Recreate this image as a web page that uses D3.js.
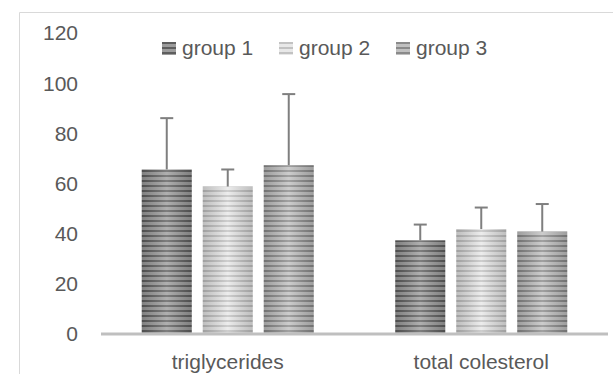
<!DOCTYPE html>
<html>
<head>
<meta charset="utf-8">
<script src="https://cdn.jsdelivr.net/npm/d3@7"></script>
<style>
  html, body { margin: 0; padding: 0; background: #fff; }
  #chart { width: 613px; height: 374px; }
  text { font-family: "Liberation Sans", Arial, sans-serif; fill: #595959; }
</style>
</head>
<body>
<div id="chart"></div>
<script>
// chart data
const categories = ['triglycerides', 'total colesterol'];
const groups = ['group 1', 'group 2', 'group 3'];
const means = [
    [65.7, 58.9, 67.4],   // triglycerides
    [37.4, 41.9, 40.9]    // total colesterol
];
const errors = [
    [20.5, 6.8, 28.4],
    [6.3, 8.6, 11.0]
];
const yTicks = [0, 20, 40, 60, 80, 100, 120];

// stripe colours per group: [dark band, light band]
const stripes = [
    ['#5e5e5e', '#9c9c9c'],
    ['#c2c2c2', '#e8e8e8'],
    ['#8a8a8a', '#c0c0c0']
];

const W = 613, H = 374;
const svg = d3.select('#chart')
    .append('svg')
    .attr('width', W)
    .attr('height', H);

const defs = svg.append('defs');

// horizontal stripe patterns
stripes.forEach((c, i) => {
    const p = defs.append('pattern')
        .attr('id', 'stripe' + i)
        .attr('patternUnits', 'userSpaceOnUse')
        .attr('width', 10)
        .attr('height', 5);
    p.append('rect').attr('width', 10).attr('height', 5).attr('fill', c[1]);
    p.append('rect').attr('width', 10).attr('height', 2).attr('fill', c[0]);
});

// cylinder-like shading across each bar
const shade = defs.append('linearGradient')
    .attr('id', 'shade')
    .attr('x1', '0%').attr('x2', '100%')
    .attr('y1', '0%').attr('y2', '0%');
shade.append('stop').attr('offset', '0%').attr('stop-color', '#000').attr('stop-opacity', 0.18);
shade.append('stop').attr('offset', '50%').attr('stop-color', '#fff').attr('stop-opacity', 0.2);
shade.append('stop').attr('offset', '100%').attr('stop-color', '#000').attr('stop-opacity', 0.18);

// chart area border
svg.append('path')
    .attr('d', `M19.5,${H} V12.5 H${W}`)
    .attr('fill', 'none')
    .attr('stroke', '#d9d9d9')
    .attr('stroke-width', 1);

// scales
const x0 = d3.scaleBand()
    .domain(categories)
    .range([101, 608])
    .paddingInner(0)
    .paddingOuter(0);

const x1 = d3.scaleBand()
    .domain(groups)
    .range([0, x0.bandwidth()])
    .paddingInner(0.18)
    .paddingOuter(0.668);

const y = d3.scaleLinear()
    .domain([0, 120])
    .range([334, 33.5]);

// y tick labels (no axis line, no gridlines)
svg.append('g')
    .selectAll('text')
    .data(yTicks)
    .enter()
    .append('text')
    .attr('x', 78)
    .attr('y', d => y(d))
    .attr('dy', '0.33em')
    .attr('text-anchor', 'end')
    .style('font-size', '21px')
    .text(d => d);

// bars
const catG = svg.selectAll('.cat')
    .data(categories)
    .enter()
    .append('g')
    .attr('class', 'cat')
    .attr('transform', d => `translate(${x0(d)},0)`);

catG.each(function(cat, ci) {
    const g = d3.select(this);
    const rows = groups.map((grp, gi) => ({ grp, gi, v: means[ci][gi], e: errors[ci][gi] }));

    g.selectAll('.bar')
        .data(rows)
        .enter()
        .append('rect')
        .attr('class', 'bar')
        .attr('x', d => x1(d.grp))
        .attr('y', d => y(d.v))
        .attr('width', x1.bandwidth())
        .attr('height', d => y(0) - y(d.v))
        .attr('fill', d => `url(#stripe${d.gi})`);

    g.selectAll('.bar-shade')
        .data(rows)
        .enter()
        .append('rect')
        .attr('class', 'bar-shade')
        .attr('x', d => x1(d.grp))
        .attr('y', d => y(d.v))
        .attr('width', x1.bandwidth())
        .attr('height', d => y(0) - y(d.v))
        .attr('fill', 'url(#shade)');

    // error bars (upper only)
    const eb = g.selectAll('.err')
        .data(rows)
        .enter()
        .append('g')
        .attr('class', 'err')
        .attr('stroke', '#7f7f7f')
        .attr('stroke-width', 2);

    eb.append('line')
        .attr('x1', d => x1(d.grp) + x1.bandwidth() / 2)
        .attr('x2', d => x1(d.grp) + x1.bandwidth() / 2)
        .attr('y1', d => y(d.v))
        .attr('y2', d => y(d.v + d.e));

    eb.append('line')
        .attr('x1', d => x1(d.grp) + x1.bandwidth() / 2 - 6.5)
        .attr('x2', d => x1(d.grp) + x1.bandwidth() / 2 + 6.5)
        .attr('y1', d => y(d.v + d.e))
        .attr('y2', d => y(d.v + d.e));
});

// x axis baseline
svg.append('line')
    .attr('x1', 101)
    .attr('x2', 608)
    .attr('y1', y(0))
    .attr('y2', y(0))
    .attr('stroke', '#bfbfbf')
    .attr('stroke-width', 3);

// category labels
svg.append('g')
    .selectAll('text')
    .data(categories)
    .enter()
    .append('text')
    .attr('x', d => x0(d) + x0.bandwidth() / 2)
    .attr('y', 369)
    .attr('text-anchor', 'middle')
    .style('font-size', '21px')
    .text(d => d);

// legend
const legendX = [162, 279, 396];
const legend = svg.append('g')
    .selectAll('g')
    .data(groups)
    .enter()
    .append('g')
    .attr('transform', (d, i) => `translate(${legendX[i]},42)`);

legend.append('rect')
    .attr('width', 14)
    .attr('height', 13)
    .attr('fill', (d, i) => `url(#stripe${i})`);

legend.append('text')
    .attr('x', 20)
    .attr('y', 13)
    .style('font-size', '21px')
    .text(d => d);
</script>
</body>
</html>
